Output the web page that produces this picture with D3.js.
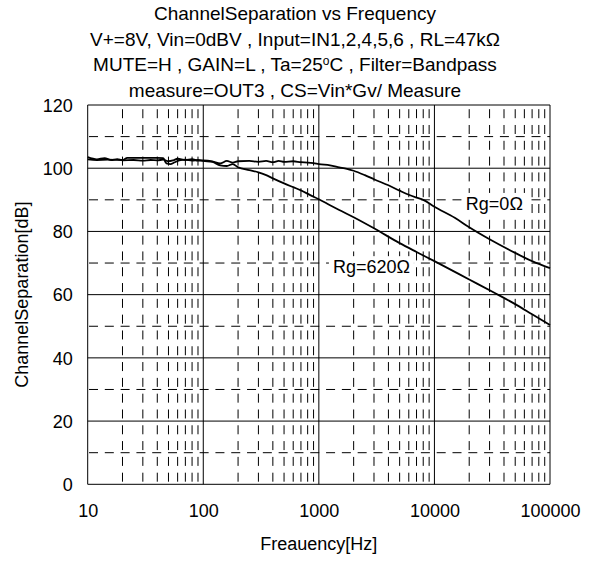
<!DOCTYPE html>
<html>
<head>
<meta charset="utf-8">
<script src="https://cdn.jsdelivr.net/npm/d3@7"></script>
<style>
  html, body { margin: 0; padding: 0; background: #fff; }
  svg { display: block; }
  text { font-family: "Liberation Sans", Arial, sans-serif; fill: #000; }
</style>
</head>
<body>
<svg id="chart" width="592" height="563"></svg>
<script>
// ---- data ----
const titleLines = [
  "ChannelSeparation vs Frequency",
  "V+=8V, Vin=0dBV , Input=IN1,2,4,5,6 , RL=47kΩ",
  "MUTE=H , GAIN=L , Ta=25°C , Filter=Bandpass",
  "measure=OUT3 , CS=Vin*Gv/ Measure"
];
const xTicks = [10, 100, 1000, 10000, 100000];
const yTicks = [0, 20, 40, 60, 80, 100, 120];
const xLabel = "Freauency[Hz]";
const yLabel = "ChannelSeparation[dB]";

const freqRg0 = [10, 12, 14, 16, 18, 20, 25, 30, 35, 40, 45, 50, 55, 60, 70, 80, 90, 100, 120, 140, 160, 180, 200, 250, 300, 350, 400, 450, 500, 600, 700, 800, 900, 1000, 1250, 1500, 1750, 2000, 2500, 3000, 4000, 5000, 6000, 7000, 8000, 10000, 15000, 20000, 30000, 50000, 70000, 100000];
const csRg0   = [103.5, 102.8, 103.2, 102.6, 102.9, 102.5, 102.6, 102.4, 102.6, 102.5, 102.7, 102.2, 102.5, 103.0, 102.6, 102.9, 102.4, 102.5, 102.2, 101.5, 102.3, 101.8, 102.2, 102.3, 102.0, 102.3, 101.9, 102.3, 102.0, 102.2, 101.9, 101.8, 101.6, 101.3, 100.9, 100.3, 99.8, 99.2, 97.8, 96.5, 94.6, 92.9, 91.6, 90.7, 90.0, 87.8, 84.3, 81.3, 77.5, 73.2, 70.6, 68.4];

const freqRg620 = [10, 12, 15, 20, 22, 30, 40, 45, 48, 52, 56, 62, 70, 80, 90, 100, 120, 140, 160, 180, 200, 250, 300, 350, 400, 500, 600, 700, 850, 1000, 1250, 1500, 2000, 3000, 5000, 7000, 10000, 20000, 33000, 50000, 70000, 100000];
const csRg620   = [102.8, 102.6, 102.7, 102.6, 103.3, 103.3, 103.3, 103.2, 101.5, 101.3, 101.8, 102.5, 102.7, 102.4, 102.6, 102.3, 102.0, 100.9, 100.7, 101.3, 100.3, 99.4, 98.7, 97.8, 96.8, 95.2, 94.0, 93.0, 91.4, 90.2, 88.3, 86.8, 84.5, 81.0, 76.3, 73.5, 70.6, 64.8, 60.6, 57.0, 53.8, 50.4];

const seriesLabels = ["Rg=0Ω", "Rg=620Ω"];
const labelFreq = [33000, 2850];
const labelCS = [86.8, 66.8];

// ---- layout ----
const svg = d3.select("#chart");
const L = 87.7, R = 550, T = 105, B = 484.3;
const x = d3.scaleLog().domain([10, 100000]).range([L, R]);
const y = d3.scaleLinear().domain([0, 120]).range([B, T]);
const FS = 18, TFS = 19;

// title
svg.append("g").selectAll("text").data(titleLines).join("text")
  .attr("x", 295)
  .attr("y", (d, i) => 20 + i * 25.6)
  .attr("text-anchor", "middle")
  .attr("font-size", TFS)
  .each(function(d) {
    const t = d3.select(this);
    if (d.includes("°C")) {
      const parts = d.split("°");
      t.append("tspan").text(parts[0]);
      t.append("tspan").attr("font-size", 12).attr("dy", -6).text("o");
      t.append("tspan").attr("dy", 6).text(parts[1]);
    } else {
      t.text(d);
    }
  });

// grid
const grid = svg.append("g").attr("stroke", "#000").attr("fill", "none");
const period = y(0) - y(5);
const dash = period * 0.57, gap = period - dash;

const minorX = [];
xTicks.slice(0, -1).forEach(d => { for (let k = 2; k <= 9; k++) minorX.push(d * k); });
grid.selectAll("line.mx").data(minorX).join("line")
  .attr("x1", d => x(d)).attr("x2", d => x(d))
  .attr("y1", B).attr("y2", T)
  .attr("stroke-width", 1)
  .attr("stroke-dasharray", `${dash},${gap}`)
  .attr("stroke-dashoffset", dash + gap - 2.6);

const minorY = d3.range(10, 120, 20);
grid.selectAll("line.my").data(minorY).join("line")
  .attr("x1", L).attr("x2", R)
  .attr("y1", d => y(d)).attr("y2", d => y(d))
  .attr("stroke-width", 1)
  .attr("stroke-dasharray", `${dash},${gap}`)
  .attr("stroke-dashoffset", dash + gap - 1.3);

grid.selectAll("line.Mx").data(xTicks).join("line")
  .attr("x1", d => x(d)).attr("x2", d => x(d))
  .attr("y1", B).attr("y2", T).attr("stroke-width", 1);
grid.selectAll("line.My").data(yTicks).join("line")
  .attr("x1", L).attr("x2", R)
  .attr("y1", d => y(d)).attr("y2", d => y(d)).attr("stroke-width", 1);

// axes (labels only)
const xAxis = d3.axisBottom(x).tickValues(xTicks).tickFormat(d3.format("d")).tickSize(0).tickPadding(0);
const gx = svg.append("g").attr("transform", `translate(0,${B})`).call(xAxis);
gx.select(".domain").remove();
gx.selectAll("text").attr("font-size", FS).attr("font-family", "Liberation Sans, Arial, sans-serif")
  .attr("dy", null).attr("y", 32.5).attr("fill", "#000");

const yAxis = d3.axisLeft(y).tickValues(yTicks).tickSize(0).tickPadding(0);
const gy = svg.append("g").attr("transform", `translate(${L},0)`).call(yAxis);
gy.select(".domain").remove();
gy.selectAll("text").attr("font-size", FS).attr("font-family", "Liberation Sans, Arial, sans-serif")
  .attr("x", -15).attr("dy", "0.35em").attr("fill", "#000");

// axis titles
svg.append("text").attr("x", (L + R) / 2).attr("y", 550)
  .attr("text-anchor", "middle").attr("font-size", FS).text(xLabel);
svg.append("text").attr("transform", `translate(28,${(T + B) / 2}) rotate(-90)`)
  .attr("text-anchor", "middle").attr("font-size", FS).text(yLabel);

// series labels with white background
const lg = svg.append("g");
seriesLabels.forEach((s, i) => {
  const g = lg.append("g");
  const t = g.append("text")
    .attr("x", x(labelFreq[i]))
    .attr("y", y(labelCS[i]))
    .attr("text-anchor", "middle")
    .attr("font-size", FS)
    .text(s);
  const bb = t.node().getBBox();
  g.insert("rect", "text")
    .attr("x", bb.x - 4).attr("y", bb.y - 1)
    .attr("width", bb.width + 8).attr("height", bb.height + 1)
    .attr("fill", "#fff");
});

// curves
const line = d3.line().x(d => x(d[0])).y(d => y(d[1])).curve(d3.curveMonotoneX);
const series = [d3.zip(freqRg0, csRg0), d3.zip(freqRg620, csRg620)];
svg.append("g").selectAll("path").data(series).join("path")
  .attr("d", line)
  .attr("fill", "none").attr("stroke", "#000").attr("stroke-width", 1.8);
</script>
</body>
</html>
